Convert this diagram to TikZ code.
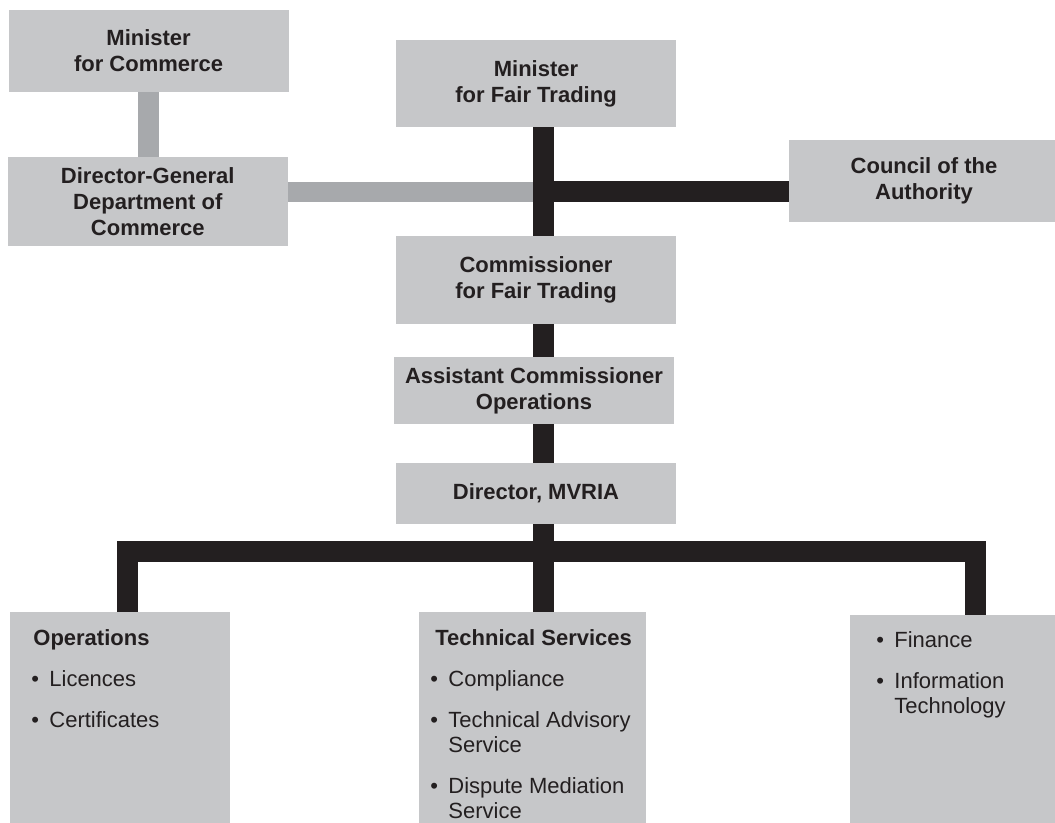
\documentclass[tikz,border=0pt]{standalone}
\usepackage{fontspec}
\setmainfont{Liberation Sans}
\usepackage{xcolor}
\usetikzlibrary{calc}
\definecolor{boxgray}{HTML}{C6C7C9}
\definecolor{linkgray}{HTML}{A7A9AC}
\definecolor{inkblack}{HTML}{231F20}
\newcommand{\bul}{\makebox[9pt][l]{\textbullet}}
\newcommand{\ind}{\hspace*{9pt}}
\newcommand{\topln}{\rule{0pt}{10pt}}

\begin{document}
\begin{tikzpicture}[
  x=0.5pt, y=-0.5pt,
  box/.style={fill=boxgray, inner sep=0pt, align=center, text=inkblack,
    font=\fontsize{11pt}{13pt}\selectfont\bfseries},
  lst/.style={inner sep=0pt, align=left, anchor=north west, text=inkblack,
    font=\fontsize{11pt}{12.5pt}\selectfont},
  gline/.style={draw=linkgray, line width=10.3pt},
  bline/.style={draw=inkblack, line width=10.5pt}
]
  \useasboundingbox (0,0) rectangle (1055,823);
  \clip (0,0) rectangle (1055,823);
  \coordinate (spine) at (543.5,0);
  \coordinate (gx) at (148.7,0);
  \coordinate (jn) at (543.5,192);
  \coordinate (bar) at (543.5,551);
  \coordinate (lx) at (127.4,0);
  \coordinate (rx) at (975.5,0);

  \node[box, minimum width=140pt, minimum height=41pt] (mfc) at (148.6,51) {Minister\\for Commerce};
  \node[box, minimum width=140.2pt, minimum height=44.5pt] (dg) at (147.8,201.5) {Director-General\\Department of\\Commerce};
  \node[box, minimum width=140pt, minimum height=43.5pt] (mft) at (536,83.5) {Minister\\for Fair Trading};
  \node[box, minimum width=135pt, minimum height=41pt] (coa) at (924,181) {Council of the\\Authority};
  \node[box, minimum width=140pt, minimum height=44pt] (cft) at (536,280) {Commissioner\\for Fair Trading};
  \node[box, minimum width=140pt, minimum height=33.5pt] (aco) at (534,390.5) {Assistant Commissioner\\Operations};
  \node[box, minimum width=140pt, minimum height=30.5pt] (dir) at (536,493.5) {Director, MVRIA};
  \node[box, minimum width=110pt, minimum height=114pt] (ops) at (120,726) {};
  \node[box, minimum width=113.5pt, minimum height=114pt] (tech) at (532.5,726) {};
  \node[box, minimum width=107.5pt, minimum height=112.5pt] (fin) at (957.5,727.5) {};

  \draw[gline] (mfc.south -| gx) -- (dg.north -| gx);
  \draw[gline] (dg.east |- jn) -- (jn);
  \draw[bline] (mft.south -| spine) -- (cft.north -| spine);
  \draw[bline] (jn) -- (coa.west |- jn);
  \draw[bline] (cft.south -| spine) -- (aco.north -| spine);
  \draw[bline] (aco.south -| spine) -- (dir.north -| spine);
  \draw[bline] (dir.south -| spine) -- (bar);
  \draw[bline] (ops.north -| lx) |- (bar) -| (fin.north -| rx);
  \draw[bline] (bar) -- (tech.north -| spine);

  \node[lst] (opsTxt) at (31,625) {\topln\hspace*{1pt}\textbf{Operations}\\[8pt]
    \bul Licences\\[8pt]
    \bul Certificates};
  \node[lst] (techTxt) at (430,625) {\topln\hspace*{2.5pt}\textbf{Technical Services}\\[8pt]
    \bul Compliance\\[8pt]
    \bul Technical Advisory\\ \ind Service\\[8pt]
    \bul Dispute Mediation\\ \ind Service};
  \node[lst] (finTxt) at (876,627) {\topln\bul Finance\\[8pt]
    \bul Information\\ \ind Technology};
\end{tikzpicture}
\end{document}
